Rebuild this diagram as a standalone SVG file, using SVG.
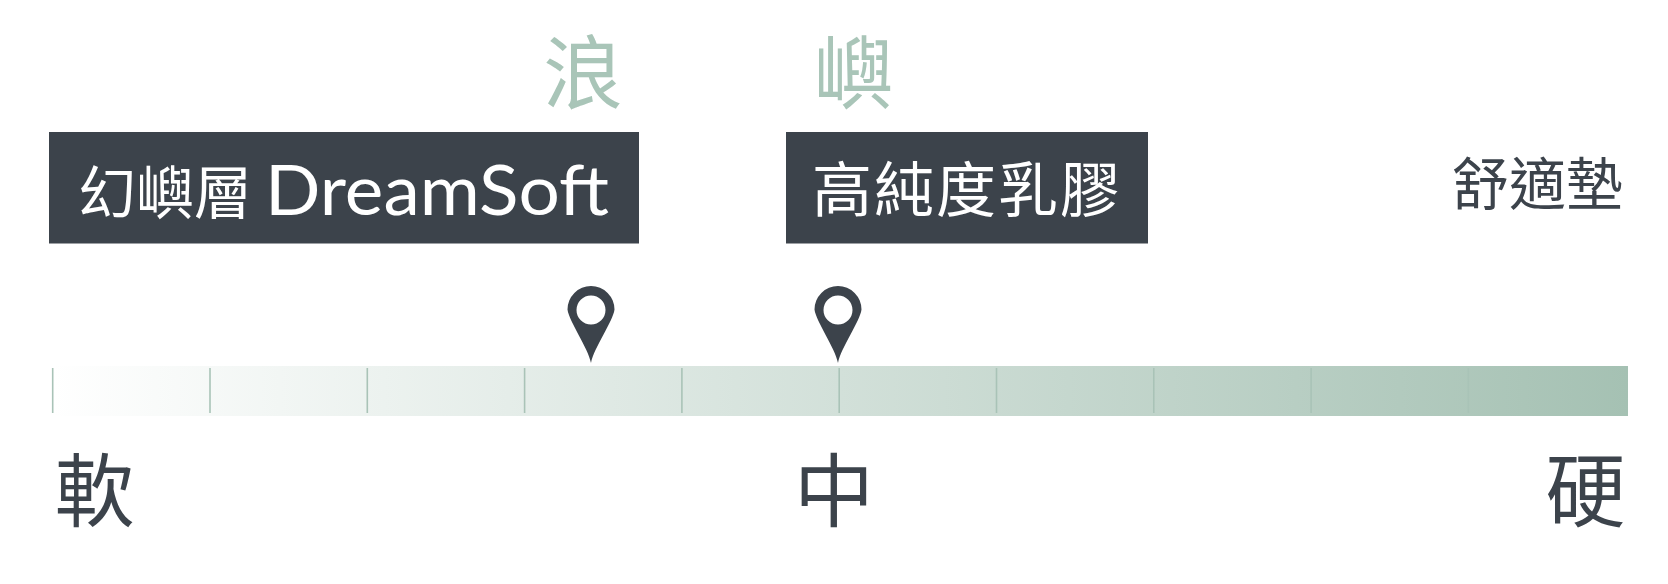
<svg xmlns="http://www.w3.org/2000/svg" width="1668" height="584" viewBox="0 0 1668 584">
  <defs>
    <linearGradient id="barGrad" x1="0" y1="0" x2="1" y2="0">
      <stop offset="0" stop-color="#ffffff"/>
      <stop offset="1" stop-color="#a5c1b3"/>
    </linearGradient>
    <path id="pinShape" fill-rule="evenodd" d="M -23.5 0 A 23.5 23.5 0 1 1 23.5 0 C 22 12 3 38 0 53.5 C -3 38 -22 12 -23.5 0 Z M -14.5 0.5 A 14.5 14.5 0 1 0 14.5 0.5 A 14.5 14.5 0 1 0 -14.5 0.5 Z"/>
  </defs>
  <style>
    .cjk { font-family: "Noto Sans CJK TC", "Noto Sans CJK SC", sans-serif; }
    .dark { fill: #3c434b; }
    .sage { fill: #a9c5b8; }
    .white { fill: #ffffff; }
    .box { fill: #3c434b; }
    .tick { stroke: #a9c3b7; stroke-width: 1.6; }
    .latin { font-family: "Lato", "Open Sans", sans-serif; }
  </style>
  <rect x="0" y="0" width="1668" height="584" fill="#ffffff"/>

  <g id="title-lang">
    <text class="cjk sage" x="583" y="102" font-size="80" text-anchor="middle">浪</text>
  </g>
  <g id="title-yu">
    <text class="cjk sage" x="853.5" y="102" font-size="80" text-anchor="middle">嶼</text>
  </g>

  <g id="node-dreamsoft">
    <rect class="box" x="49" y="132" width="590" height="111.5"/>
    <text class="cjk white" y="214" font-size="58"><tspan x="78">幻嶼層</tspan><tspan class="latin" x="265" y="215" font-size="70" textLength="344" lengthAdjust="spacingAndGlyphs">DreamSoft</tspan></text>
  </g>

  <g id="node-latex">
    <rect class="box" x="786" y="132" width="362" height="111.5"/>
    <text class="cjk white" x="967" y="212" font-size="60" letter-spacing="2" text-anchor="middle">高純度乳膠</text>
  </g>

  <g id="node-comfort">
    <text class="cjk dark" x="1623" y="205" font-size="57" text-anchor="end">舒適墊</text>
  </g>

  <g id="scale-bar">
    <rect x="52" y="366" width="1576" height="50" fill="url(#barGrad)"/>
    <g id="ticks">
      <line class="tick" x1="52.7" y1="368" x2="52.7" y2="413"/>
      <line class="tick" x1="210" y1="368" x2="210" y2="413"/>
      <line class="tick" x1="367.3" y1="368" x2="367.3" y2="413"/>
      <line class="tick" x1="524.6" y1="368" x2="524.6" y2="413"/>
      <line class="tick" x1="681.9" y1="368" x2="681.9" y2="413"/>
      <line class="tick" x1="839.2" y1="368" x2="839.2" y2="413"/>
      <line class="tick" x1="996.5" y1="368" x2="996.5" y2="413"/>
      <line class="tick" x1="1153.8" y1="368" x2="1153.8" y2="413"/>
      <line class="tick" x1="1311.1" y1="368" x2="1311.1" y2="413"/>
      <line class="tick" x1="1468.4" y1="368" x2="1468.4" y2="413"/>
    </g>
  </g>

  <g id="connectors">
    <g id="pin-lang" class="dark">
      <use href="#pinShape" x="591" y="309.5"/>
    </g>
    <g id="pin-yu" class="dark">
      <use href="#pinShape" x="838" y="309.5"/>
    </g>
  </g>

  <g id="label-soft">
    <text class="cjk dark" x="94.5" y="520" font-size="80" text-anchor="middle">軟</text>
  </g>
  <g id="label-mid">
    <text class="cjk dark" x="834" y="520" font-size="80" text-anchor="middle">中</text>
  </g>
  <g id="label-hard">
    <text class="cjk dark" x="1585.5" y="520" font-size="80" text-anchor="middle">硬</text>
  </g>
</svg>
